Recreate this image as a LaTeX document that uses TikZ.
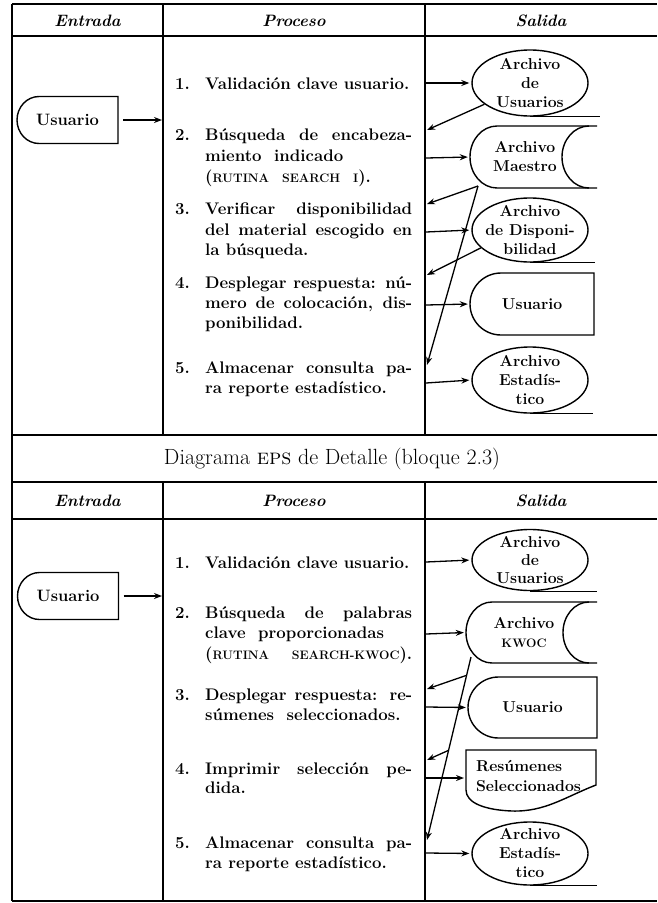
\documentclass[tikz,border=0pt]{standalone}
\usetikzlibrary{arrows.meta,calc,shapes.geometric}
\newcommand\jst[1]{\makebox[207pt][s]{#1}}
\newcommand\sck[1]{{\fontsize{12.3}{20}\selectfont #1}}
\tikzset{
  tbl/.style={line width=1.8pt},
  shp/.style={line width=1.4pt},
  arr/.style={line width=1.3pt,-{Stealth[length=8pt,width=6pt]}},
  ptxt/.style={anchor=base west,inner sep=0pt,font=\fontsize{16.8}{20}\selectfont\bfseries},
  hdr/.style={anchor=base,inner sep=0pt,font=\fontsize{16.5}{18}\selectfont\bfseries\itshape},
  lbl/.style={align=center,inner sep=0pt,font=\fontsize{15.8}{19}\selectfont\bfseries},
  dsk/.style={ellipse,draw,shp,minimum width=116pt,inner sep=0pt},
}
\begin{document}
\begin{tikzpicture}[x=1pt,y=-1pt]
\useasboundingbox (0,0) rectangle (657,903);
% ---------- table ----------
\draw[tbl] (12,4) -- (657,4);
\draw[tbl] (12,36) -- (657,36);
\draw[tbl] (12,435) -- (657,435);
\draw[tbl] (12,482) -- (657,482);
\draw[tbl] (12,519) -- (657,519);
\draw[tbl] (12,901) -- (657,901);
\draw[tbl] (12,4) -- (12,901);
\draw[tbl] (163,4) -- (163,435);
\draw[tbl] (425,4) -- (425,435);
\draw[tbl] (163,482) -- (163,901);
\draw[tbl] (425,482) -- (425,901);
% headers
\node[hdr] (h1a) at (87.5,26) {Entrada};
\node[hdr] (h1b) at (294,26) {Proceso};
\node[hdr] (h1c) at (541,26) {Salida};
\node[hdr] (h2a) at (87.5,506) {Entrada};
\node[hdr] (h2b) at (294,506) {Proceso};
\node[hdr] (h2c) at (541,506) {Salida};
\node[anchor=base,inner sep=0pt,font=\fontsize{22}{26}\selectfont] (cap) at (332,464) {Diagrama \textsc{eps} de Detalle (bloque 2.3)};

% ================= TOP SECTION =================
% entrada
\node[lbl,font=\fontsize{16.5}{19}\selectfont\bfseries,minimum width=101pt,minimum height=47pt] (uin1) at (67.5,120) {Usuario};
\begin{scope}[shift={(uin1.center)}]
\draw[shp] (50.5,-23.5) -- (-28.5,-23.5) arc[start angle=270,end angle=90,x radius=22,y radius=23.5] -- (50.5,23.5) -- cycle;
\end{scope}
\coordinate (e1) at (162,120);
\draw[arr,shorten <=5pt] (uin1.east) -- (e1);

% process text
\node[ptxt] (a1n) at (175,89) {1.};
\node[ptxt] (a1) at (205,89) {Validación clave usuario.};
\node[ptxt] (a2n) at (175,140) {2.};
\node[ptxt] (a2a) at (205,140) {\jst{Búsqueda de encabeza-}};
\node[ptxt] (a2b) at (205,161) {miento\ \ indicado};
\node[ptxt] (a2c) at (205,182) {(\sck{RUTINA}\hspace{13pt}\sck{SEARCH}\hspace{13pt}\sck{I}).};
\node[ptxt] (a3n) at (175,214) {3.};
\node[ptxt] (a3a) at (205,214) {\jst{Verificar disponibilidad}};
\node[ptxt] (a3b) at (205,235) {\jst{del material escogido en}};
\node[ptxt] (a3c) at (205,255) {la búsqueda.};
\node[ptxt] (a4n) at (175,288) {4.};
\node[ptxt] (a4a) at (205,288) {\jst{Desplegar respuesta: nú-}};
\node[ptxt] (a4b) at (205,308) {\jst{mero de colocación, dis-}};
\node[ptxt] (a4c) at (205,328) {ponibilidad.};
\node[ptxt] (a5n) at (175,373) {5.};
\node[ptxt] (a5a) at (205,373) {\jst{Almacenar consulta pa-}};
\node[ptxt] (a5b) at (205,393) {ra reporte estadístico.};

% salida shapes
\node[dsk,minimum height=66pt] (au1) at (530,83) {};
\node[lbl] (au1t) at (au1.center) {Archivo\\de\\Usuarios};
\draw[shp] (au1.south) -- ++(70,0);

\node[lbl,minimum width=110pt,minimum height=62pt] (am1) at (525,157) {Archivo\\Maestro};
\begin{scope}[shift={(am1.center)}]
\draw[shp] (72,-31) -- (-28,-31) arc[start angle=270,end angle=90,x radius=27,y radius=31] -- (72,31);
\draw[shp] (64,-31) arc[start angle=270,end angle=90,x radius=27,y radius=31];
\end{scope}

\node[dsk,minimum height=64pt] (ad1) at (530,230) {};
\node[lbl] (ad1t) at (ad1.center) {Archivo\\de Disponi-\\bilidad};
\draw[shp] (ad1.south) -- ++(65,0);

\node[lbl,minimum width=124pt,minimum height=62pt] (uo1) at (532,304) {Usuario};
\begin{scope}[shift={(uo1.center)}]
\draw[shp] (62,-31) -- (-31,-31) arc[start angle=270,end angle=90,x radius=31,y radius=31] -- (62,31) -- cycle;
\end{scope}

\node[dsk,minimum height=66pt] (ae1) at (530,380) {};
\node[lbl] (ae1t) at (ae1.center) {Archivo\\Estadís-\\tico};
\draw[shp] (ae1.south) -- ++(63,0);

% connectors top
\coordinate (q11) at (426,83);
\coordinate (q12) at (426,158);
\coordinate (q13) at (426,232);
\coordinate (q14) at (426,305);
\coordinate (q15) at (426,383);
\coordinate (r12) at (427,130);
\coordinate (r13) at (427,204);
\coordinate (r14) at (427,275);
\coordinate (r15) at (427,365);
\coordinate (m1) at (478,186);
\draw[arr,shorten >=2pt] (q11) -- (au1.west);
\draw[arr,shorten >=2pt] (q12) -- (am1.west);
\draw[arr,shorten >=2pt] (q13) -- (ad1.west);
\draw[arr,shorten >=2pt] (q14) -- (uo1.west);
\draw[arr,shorten >=2pt] (q15) -- (ae1.west);
\draw[arr] (au1.205) -- (r12);
\draw[arr] (m1) -- (r13);
\draw[arr] (m1) -- (r15);
\draw[arr] (ad1.200) -- (r14);

% ================= BOTTOM SECTION =================
\node[lbl,font=\fontsize{16.5}{19}\selectfont\bfseries,minimum width=101pt,minimum height=47pt] (uin2) at (68,596) {Usuario};
\begin{scope}[shift={(uin2.center)}]
\draw[shp] (50.5,-23.5) -- (-28.5,-23.5) arc[start angle=270,end angle=90,x radius=22,y radius=23.5] -- (50.5,23.5) -- cycle;
\end{scope}
\coordinate (e2) at (162,596);
\draw[arr,shorten <=5pt] (uin2.east) -- (e2);

\node[ptxt] (b1n) at (175,568) {1.};
\node[ptxt] (b1) at (205,568) {Validación clave usuario.};
\node[ptxt] (b2n) at (175,618) {2.};
\node[ptxt] (b2a) at (205,618) {\jst{Búsqueda de palabras}};
\node[ptxt] (b2b) at (205,638) {clave\ \ proporcionadas};
\node[ptxt] (b2c) at (205,659) {\jst{(\sck{RUTINA} \sck{SEARCH-KWOC}).}};
\node[ptxt] (b3n) at (175,700) {3.};
\node[ptxt] (b3a) at (205,700) {\jst{Desplegar respuesta: re-}};
\node[ptxt] (b3b) at (205,720) {súmenes\ \ seleccionados.};
\node[ptxt] (b4n) at (175,774) {4.};
\node[ptxt] (b4a) at (205,774) {\jst{Imprimir selección pe-}};
\node[ptxt] (b4b) at (205,793) {dida.};
\node[ptxt] (b5n) at (175,848) {5.};
\node[ptxt] (b5a) at (205,848) {\jst{Almacenar consulta pa-}};
\node[ptxt] (b5b) at (205,868) {ra reporte estadístico.};

\node[dsk,minimum height=61pt] (au2) at (530,560) {};
\node[lbl,font=\fontsize{15.8}{18}\selectfont\bfseries] (au2t) at (au2.center) {Archivo\\de\\Usuarios};
\draw[shp] (au2.south) -- ++(67,0);

\node[lbl,minimum width=116pt,minimum height=61pt] (ak2) at (524,632.5) {Archivo\\\sck{KWOC}};
\begin{scope}[shift={(ak2.center)}]
\draw[shp] (73,-30.5) -- (-32,-30.5) arc[start angle=270,end angle=90,x radius=26,y radius=30.5] -- (73,30.5);
\draw[shp] (65,-30.5) arc[start angle=270,end angle=90,x radius=26,y radius=30.5];
\end{scope}

\node[lbl,minimum width=129pt,minimum height=61pt] (uo2) at (532.5,707.5) {Usuario};
\begin{scope}[shift={(uo2.center)}]
\draw[shp] (64.5,-30.5) -- (-34,-30.5) arc[start angle=270,end angle=90,x radius=30.5,y radius=30.5] -- (64.5,30.5) -- cycle;
\end{scope}

\node[lbl,align=left,text width=115pt,font=\fontsize{15.8}{20}\selectfont\bfseries] (rs2) at (533.5,776) {Resúmenes\\Seleccionados};
\draw[shp] (466,750) -- (596,750) -- (596,785) .. controls (565,797) and (545,812) .. (512,811) .. controls (485,810) and (466,803) .. (466,790) -- cycle;
\coordinate (rs2w) at (466,778);

\node[dsk,minimum height=63pt] (ae2) at (530,853.5) {};
\node[lbl] (ae2t) at (ae2.center) {Archivo\\Estadís-\\tico};
\draw[shp] (ae2.south) -- ++(67,0);

% connectors bottom
\coordinate (q21) at (426,562);
\coordinate (q22) at (426,634);
\coordinate (q23) at (426,707);
\coordinate (q24) at (426,778);
\coordinate (q25) at (426,853);
\coordinate (k1) at (471,657);
\coordinate (k5) at (427,840);
\coordinate (r23) at (427,689);
\coordinate (r24) at (427,760);
\draw[arr,shorten >=2pt] (q21) -- (au2.west);
\draw[arr,shorten >=2pt] (q22) -- (ak2.west);
\draw[arr,shorten >=2pt] (q23) -- (uo2.west);
\draw[arr,shorten >=2pt] (q24) -- (rs2w);
\draw[arr,shorten >=2pt] (q25) -- (ae2.west);
\draw[arr] (k1) -- (k5);
\draw[arr] ($(k1)!0.1!(k5)$) -- (r23);
\draw[arr] ($(k1)!0.51!(k5)$) -- (r24);
\end{tikzpicture}
\end{document}
